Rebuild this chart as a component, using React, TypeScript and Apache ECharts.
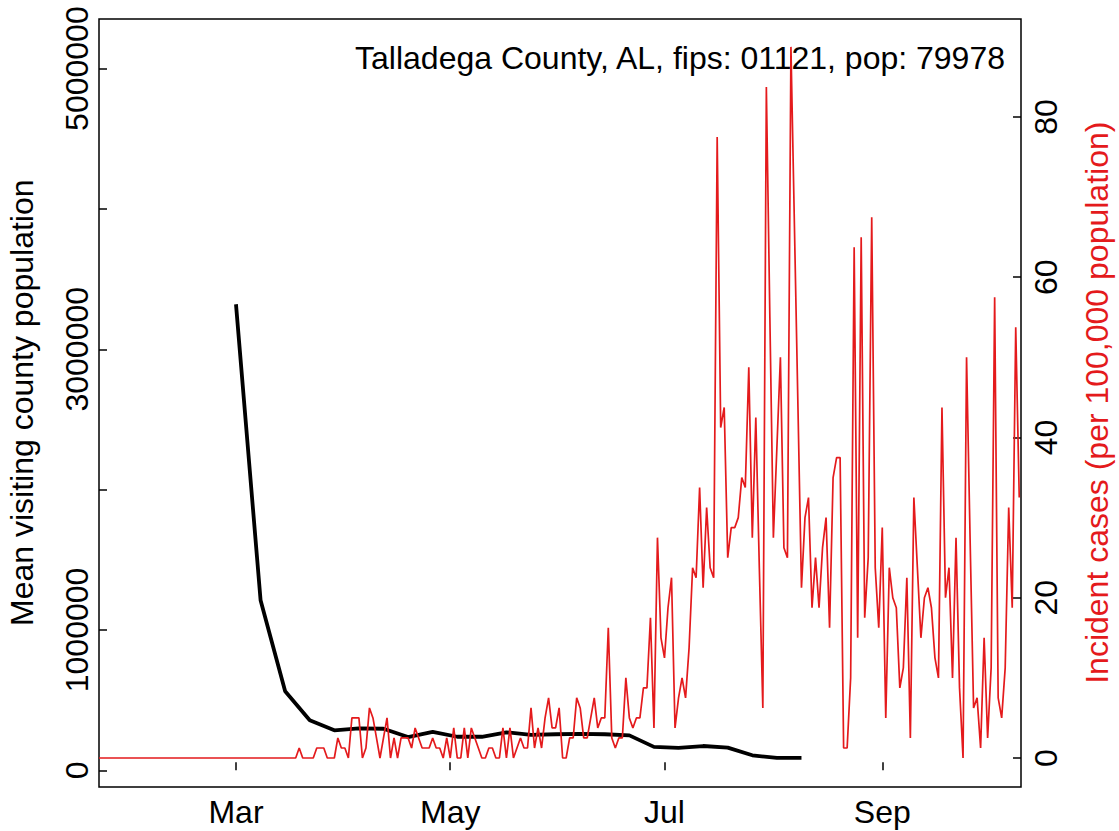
import React, { useEffect, useRef } from "react";
import * as echarts from "echarts";

// ---- data ----
const titleText = "Talladega County, AL, fips: 01121, pop: 79978";
const leftAxisTitle = "Mean visiting county population";
const rightAxisTitle = "Incident cases (per 100,000 population)";

// x axis: day index counted from 2020-01-22
const monthTickDays = [39, 100, 161, 223];
const monthTickLabels = ["Mar", "May", "Jul", "Sep"];

const leftTickValues = [0, 1000000, 2000000, 3000000, 4000000, 5000000];
const leftLabelValues = [0, 1000000, 3000000, 5000000];
const rightTickValues = [0, 20, 40, 60, 80];

// weekly mean visiting county population (black line)
const visitDays = [39, 46, 53, 60, 67, 74, 81, 88, 95, 102, 109, 116, 123, 130, 137, 144, 151, 158, 165, 172, 179, 186, 193, 200];
const visitPop = [3321000, 1212000, 563000, 356000, 285000, 299000, 296000, 237000, 274000, 239000, 239000, 271000, 253000, 257000, 260000, 257000, 249000, 167000, 160000, 173000, 162000, 107000, 88000, 88000];

// daily incident cases per 100,000 (red line), day 0 = 2020-01-22
const incidence = [
  0, 0, 0, 0, 0, 0, 0, 0, 0, 0,
  0, 0, 0, 0, 0, 0, 0, 0, 0, 0,
  0, 0, 0, 0, 0, 0, 0, 0, 0, 0,
  0, 0, 0, 0, 0, 0, 0, 0, 0, 0,
  0, 0, 0, 0, 0, 0, 0, 0, 0, 0,
  0, 0, 0, 0, 0, 0, 0,
  1.25, 0, 0, 0, 0, 1.25, 1.25, 1.25, 0, 0,
  0, 2.5, 1.25, 1.25, 0, 5, 5, 5, 0, 1.25,
  6.25, 5, 2.5, 0, 2.5, 5, 0, 2.5, 0, 2.5,
  2.5, 2.5, 1.25, 3.75, 2.5, 1.25, 1.25, 1.25, 2.5, 1.25,
  1.25, 0, 2.5, 0, 3.75, 0, 0, 3.75, 0, 3.75,
  2.5, 1.25, 0, 0, 1.25, 1.25, 0, 0, 3.75, 0,
  3.75, 0, 1.25, 2.5, 1.25, 1.25, 6.25, 1.25, 3.75, 1.25,
  5, 7.5, 3.75, 3.75, 6.25, 0, 0, 2.5, 2.5, 7.5,
  6.25, 2.5, 2.5, 5, 7.5, 3.75, 5, 5, 16.25, 2.5,
  1.25, 2.5, 2.5, 10, 5, 3.75, 5, 5, 8.75, 8.75,
  17.5, 3.75, 27.5, 15, 12.5, 18.75, 22.5, 3.75, 7.5, 10,
  7.5, 13.75, 23.75, 22.5, 33.75, 21.25, 31.25, 23.75, 22.5, 77.5,
  41.25, 43.75, 25, 28.75, 28.75, 30, 35, 33.75, 48.75, 27.5,
  42.5, 23.75, 6.25, 83.75, 55, 27.5, 38.75, 50, 26.25, 25,
  88.75, 66.25, 43.75, 21.25, 30, 32.5, 18.75, 25, 18.75, 26.25,
  30, 16.25, 35, 37.5, 37.5, 1.25, 1.25, 10, 63.75, 15,
  65, 17.5, 25, 67.5, 23.75, 16.25, 28.75, 5, 23.75, 20,
  18.75, 8.75, 11.25, 22.5, 2.5, 32.5, 23.75, 15, 20, 21.25,
  18.75, 12.5, 10, 43.75, 20, 23.75, 10, 27.5, 8.75, 0,
  50, 27.5, 6.25, 7.5, 1.25, 15, 2.5, 11.25, 57.5, 7.5,
  5, 11.25, 31.25, 18.75, 53.75, 32.5,
];

const FONT = '"Liberation Sans", Arial, Helvetica, sans-serif';
const FS = 32;
const RED = "#E41A1C";

export default function App() {
  const ref = useRef<HTMLDivElement>(null);

  useEffect(() => {
    if (!ref.current) return;
    const chart = echarts.init(ref.current, undefined, { renderer: "svg" });

    const blackData = visitDays.map((d, i) => [d, visitPop[i]]);
    const redData = incidence.map((v, i) => [i, v]);

    const labelStyle = { color: "#000", fontSize: FS, fontFamily: FONT };

    chart.setOption({
      animation: false,
      backgroundColor: "#fff",
      grid: {
        left: 99,
        top: 19,
        right: 98,
        bottom: 44,
        show: true,
        borderColor: "#000",
        borderWidth: 1.5,
        containLabel: false,
      },
      xAxis: {
        type: "value",
        min: 0,
        max: 262.5,
        splitLine: { show: false },
        axisLine: { show: false },
        axisTick: {
          show: true,
          inside: true,
          length: 8,
          customValues: monthTickDays,
          lineStyle: { color: "#000", width: 1.5 },
        },
        axisLabel: {
          ...labelStyle,
          margin: 9,
          customValues: monthTickDays,
          formatter: (v: number) => {
            const i = monthTickDays.indexOf(Math.round(v));
            return i >= 0 ? monthTickLabels[i] : "";
          },
        },
      },
      yAxis: [
        {
          type: "value",
          position: "left",
          min: -119000,
          max: 5353400,
          splitLine: { show: false },
          axisLine: { show: false },
          axisTick: {
            show: true,
            inside: true,
            length: 8,
            customValues: leftTickValues,
            lineStyle: { color: "#000", width: 1.5 },
          },
          axisLabel: {
            ...labelStyle,
            rotate: 90,
            margin: 6,
            customValues: leftLabelValues,
            formatter: (v: number) => String(Math.round(v)),
          },
        },
        {
          type: "value",
          position: "right",
          min: -3.62,
          max: 92.23,
          splitLine: { show: false },
          axisLine: { show: false },
          axisTick: {
            show: true,
            inside: true,
            length: 8,
            customValues: rightTickValues,
            lineStyle: { color: "#000", width: 1.5 },
          },
          axisLabel: {
            ...labelStyle,
            rotate: 90,
            margin: 9,
            customValues: rightTickValues,
            formatter: (v: number) => String(Math.round(v)),
          },
        },
      ],
      series: [
        {
          type: "line",
          xAxisIndex: 0,
          yAxisIndex: 0,
          data: blackData,
          symbol: "none",
          lineStyle: { color: "#000", width: 3.8 },
          z: 2,
        },
        {
          type: "line",
          xAxisIndex: 0,
          yAxisIndex: 1,
          data: redData,
          symbol: "none",
          lineStyle: { color: RED, width: 1.7 },
          z: 3,
        },
      ],
      graphic: [
        {
          type: "text",
          x: 1005,
          y: 58.4,
          style: {
            text: titleText,
            fill: "#000",
            font: `${FS}px ${FONT}`,
            align: "right",
            verticalAlign: "middle",
            textAlign: "right",
            textVerticalAlign: "middle",
          },
        },
        {
          type: "text",
          x: 21.9,
          y: 402.7,
          rotation: Math.PI / 2,
          style: {
            text: leftAxisTitle,
            fill: "#000",
            font: `${FS}px ${FONT}`,
            align: "center",
            verticalAlign: "middle",
            textAlign: "center",
            textVerticalAlign: "middle",
          },
        },
        {
          type: "text",
          x: 1097.2,
          y: 402.7,
          rotation: Math.PI / 2,
          style: {
            text: rightAxisTitle,
            fill: RED,
            font: `${FS}px ${FONT}`,
            align: "center",
            verticalAlign: "middle",
            textAlign: "center",
            textVerticalAlign: "middle",
          },
        },
      ],
    });

    return () => chart.dispose();
  }, []);

  return (
    <div
      ref={ref}
      style={{ position: "fixed", left: 0, top: 0, width: 1119, height: 831, background: "#fff" }}
    />
  );
}
